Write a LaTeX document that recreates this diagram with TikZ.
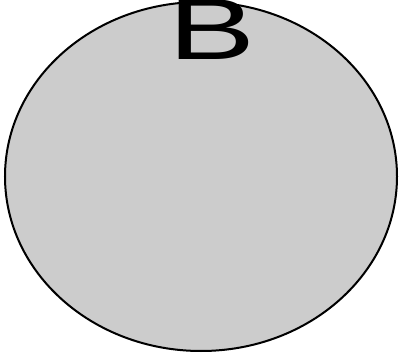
\documentclass[tikz,border=0pt]{standalone}
\usepackage{fontspec}
\setmainfont{Liberation Sans}
\usepackage{tikz}
\usetikzlibrary{shapes.geometric, positioning}
\definecolor{set-fill}{HTML}{CCCCCC}
\tikzset{
  set-ellipse/.style={
    ellipse, draw=black, fill=set-fill, line width=2pt,
    minimum width=392pt, minimum height=349pt, inner sep=0pt
  },
  set-label/.style={inner sep=0pt, xscale=1.5, font=\fontsize{87}{87}\selectfont}
}
\begin{document}
\begin{tikzpicture}[x=1pt, y=1pt]
  \useasboundingbox (0,0) rectangle (399,354);
  % Menge B
  \node[set-ellipse] (setB) at (201,177.5) {};
  \node[set-label] (labelB) at (212.5,324) {B};
\end{tikzpicture}
\end{document}
